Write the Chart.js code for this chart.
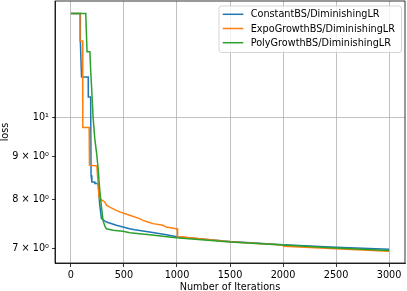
<!DOCTYPE html>
<html>
<head>
<meta charset="utf-8">
<script src="https://cdn.jsdelivr.net/npm/chart.js@4"></script>
<style>
  html, body { margin: 0; padding: 0; background: #fff; }
  canvas { display: block; }
</style>
</head>
<body>
<canvas id="lossChart" width="407" height="291"></canvas>
<script>
// values (iteration, loss)
const seriesNames = ['ConstantBS/DiminishingLR', 'ExpoGrowthBS/DiminishingLR', 'PolyGrowthBS/DiminishingLR'];

const iterConst = [0, 88, 89, 100, 163, 164, 186, 190, 197, 198, 225, 226, 257, 272, 288, 335, 400, 429, 500, 554, 600, 742, 900, 1000, 1500, 2000, 2500, 3000];
const lossConst = [13.29, 13.29, 12.30, 11.17, 11.17, 10.58, 10.58, 8.54, 8.54, 8.385, 8.385, 8.35, 8.35, 7.87, 7.586, 7.516, 7.47, 7.449, 7.41, 7.381, 7.36, 7.313, 7.26, 7.22, 7.125, 7.066, 7.015, 6.975];

const iterExpo = [0, 85, 86, 110, 112, 172, 175, 245, 265, 272, 319, 335, 366, 429, 460, 554, 648, 680, 726, 773, 867, 899, 993, 1003, 1006, 1500, 1995, 2005, 2500, 3000];
const lossExpo = [13.29, 13.29, 12.33, 12.33, 9.73, 9.73, 8.78, 8.76, 8.03, 8.01, 7.94, 7.87, 7.83, 7.76, 7.727, 7.656, 7.586, 7.55, 7.516, 7.483, 7.449, 7.413, 7.381, 7.381, 7.225, 7.12, 7.06, 7.035, 6.985, 6.94];

const iterPoly = [0, 140, 152, 179, 186, 194, 210, 225, 241, 257, 272, 288, 303, 320, 335, 397, 491, 554, 742, 993, 1500, 2000, 2500, 3000];
const lossPoly = [13.29, 13.29, 11.97, 11.97, 11.4, 10.92, 9.97, 9.44, 9.10, 8.70, 8.20, 7.83, 7.55, 7.43, 7.38, 7.35, 7.33, 7.30, 7.26, 7.20, 7.115, 7.06, 7.0, 6.955];

const xTicks = [0, 500, 1000, 1500, 2000, 2500, 3000];
const yTicks = [7, 8, 9, 10];
const yTickLabels = ['7 × 10⁰', '8 × 10⁰', '9 × 10⁰', '10¹'];

const colors = ['#1f77b4', '#ff7f0e', '#2ca02c'];
const fontFamily = 'DejaVu Sans';
const fontSize = 9.7;

function toPoints(xs, ys) {
    return xs.map((x, i) => ({ x: x, y: ys[i] }));
}

// matplotlib style frame: all four spines
const framePlugin = {
    id: 'frame',
    afterDatasetsDraw(chart) {
        const a = chart.chartArea;
        const ctx = chart.ctx;
        ctx.save();
        ctx.strokeStyle = '#000';
        ctx.lineWidth = 0.8;
        ctx.strokeRect(a.left, a.top, a.right - a.left, a.bottom - a.top);
        ctx.restore();
    }
};

// boxed legend in the top right corner
const boxLegend = {
    id: 'boxLegend',
    afterDraw(chart) {
        const ctx = chart.ctx;
        const x = 219, y = 6, w = 182.5, h = 46.5;
        ctx.save();
        ctx.beginPath();
        ctx.roundRect(x, y, w, h, 2.5);
        ctx.fillStyle = 'rgba(255,255,255,0.8)';
        ctx.fill();
        ctx.strokeStyle = '#cccccc';
        ctx.lineWidth = 0.8;
        ctx.stroke();
        ctx.font = fontSize + 'px "' + fontFamily + '"';
        ctx.textBaseline = 'middle';
        ctx.textAlign = 'left';
        seriesNames.forEach((name, i) => {
            const ly = 14.3 + i * 14.2;
            ctx.beginPath();
            ctx.moveTo(222.7, ly);
            ctx.lineTo(243.3, ly);
            ctx.strokeStyle = colors[i];
            ctx.lineWidth = 1.5;
            ctx.stroke();
            ctx.fillStyle = '#000';
            ctx.fillText(name, 250.7, ly + 0.5);
        });
        ctx.restore();
    }
};

const ctx = document.getElementById('lossChart').getContext('2d');
new Chart(ctx, {
    type: 'line',
    data: {
        datasets: [
            { label: seriesNames[0], data: toPoints(iterConst, lossConst), borderColor: colors[0], order: 2 },
            { label: seriesNames[1], data: toPoints(iterExpo, lossExpo), borderColor: colors[1], order: 1 },
            { label: seriesNames[2], data: toPoints(iterPoly, lossPoly), borderColor: colors[2], order: 0 }
        ]
    },
    options: {
        responsive: false,
        animation: false,
        devicePixelRatio: 1,
        layout: { padding: { top: 1, right: 2, left: 0, bottom: 0 } },
        elements: {
            point: { radius: 0 },
            line: { borderWidth: 1.5, tension: 0, fill: false }
        },
        plugins: {
            legend: { display: false },
            tooltip: { enabled: false }
        },
        scales: {
            x: {
                type: 'linear',
                min: -150,
                max: 3150,
                afterBuildTicks: s => { s.ticks = xTicks.map(v => ({ value: v })); },
                afterFit: s => { s.height = 28; s.paddingLeft = 0; s.paddingRight = 0; },
                grid: { color: '#b0b0b0', lineWidth: 0.8, tickColor: '#000', tickLength: 4 },
                border: { color: '#000', width: 0.8 },
                ticks: {
                    color: '#000',
                    font: { family: fontFamily, size: fontSize },
                    padding: 3,
                    maxRotation: 0,
                    callback: v => String(v)
                },
                title: {
                    display: true,
                    text: 'Number of Iterations',
                    color: '#000',
                    font: { family: fontFamily, size: fontSize },
                    padding: { top: 0, bottom: -2 }
                }
            },
            y: {
                type: 'logarithmic',
                min: 6.72,
                max: 13.75,
                afterBuildTicks: s => { s.ticks = yTicks.map(v => ({ value: v })); },
                afterFit: s => { s.width = 55; s.paddingTop = 0; s.paddingBottom = 0; },
                grid: {
                    color: c => (c.tick && c.tick.value === 10 ? '#b0b0b0' : 'rgba(0,0,0,0)'),
                    lineWidth: 0.8,
                    tickColor: '#000',
                    tickLength: 3
                },
                border: { color: '#000', width: 0.8 },
                ticks: {
                    color: '#000',
                    font: { family: fontFamily, size: fontSize },
                    padding: 3,
                    callback: v => {
                        const i = yTicks.indexOf(v);
                        return i >= 0 ? yTickLabels[i] : '';
                    }
                },
                title: {
                    display: true,
                    text: 'loss',
                    color: '#000',
                    font: { family: fontFamily, size: fontSize },
                    padding: { top: 0, bottom: 0 }
                }
            }
        }
    },
    plugins: [framePlugin, boxLegend]
});
</script>
</body>
</html>
